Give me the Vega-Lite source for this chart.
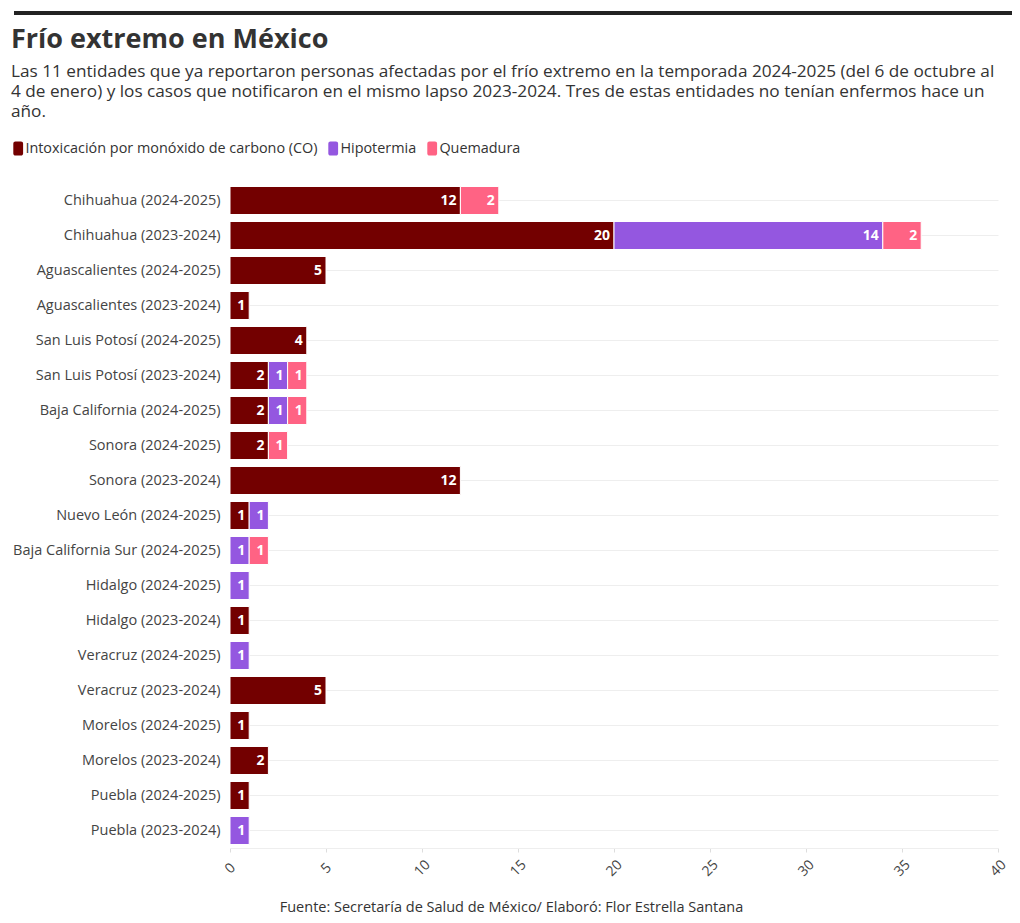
{
  "$schema": "https://vega.github.io/schema/vega-lite/v6.json",
  "padding": {"left": 11, "right": 11, "top": 11, "bottom": 10},
  "spacing": 10,
  "config": {
    "view": {"stroke": null},
    "font": "Open Sans",
    "text": {"font": "Open Sans"}
  },
  "title": {
    "text": "Fuente: Secretaría de Salud de México/ Elaboró: Flor Estrella Santana",
    "orient": "bottom",
    "anchor": "middle",
    "frame": "bounds",
    "fontSize": 14.5,
    "fontWeight": "normal",
    "color": "#333333",
    "offset": 22
  },
  "resolve": {"legend": {"color": "independent"}},
  "vconcat": [
    {
      "width": 998,
      "height": 4,
      "data": {"values": [{"a": 0, "b": 1}]},
      "mark": {"type": "rect", "color": "#222222"},
      "encoding": {
        "x": {"field": "a", "type": "quantitative", "scale": {"domain": [0, 1]}, "axis": null},
        "x2": {"field": "b"}
      }
    },
    {
      "title": {
        "text": "Frío extremo en México",
        "subtitle": [
          "Las 11 entidades que ya reportaron personas afectadas por el frío extremo en la temporada 2024-2025 (del 6 de octubre al",
          "4 de enero) y los casos que notificaron en el mismo lapso 2023-2024. Tres de estas entidades no tenían enfermos hace un",
          "año."
        ],
        "anchor": "start",
        "frame": "bounds",
        "fontSize": 27,
        "fontWeight": "bold",
        "color": "#333333",
        "subtitleFontSize": 17.2,
        "subtitleColor": "#333333",
        "subtitleLineHeight": 20,
        "subtitlePadding": 9,
        "offset": 20
      },
      "data": {
        "values": [
          {"entidad": "Chihuahua (2024-2025)", "tipo": "Intoxicación por monóxido de carbono (CO)", "n": 12},
          {"entidad": "Chihuahua (2024-2025)", "tipo": "Quemadura", "n": 2},
          {"entidad": "Chihuahua (2023-2024)", "tipo": "Intoxicación por monóxido de carbono (CO)", "n": 20},
          {"entidad": "Chihuahua (2023-2024)", "tipo": "Hipotermia", "n": 14},
          {"entidad": "Chihuahua (2023-2024)", "tipo": "Quemadura", "n": 2},
          {"entidad": "Aguascalientes (2024-2025)", "tipo": "Intoxicación por monóxido de carbono (CO)", "n": 5},
          {"entidad": "Aguascalientes (2023-2024)", "tipo": "Intoxicación por monóxido de carbono (CO)", "n": 1},
          {"entidad": "San Luis Potosí (2024-2025)", "tipo": "Intoxicación por monóxido de carbono (CO)", "n": 4},
          {"entidad": "San Luis Potosí (2023-2024)", "tipo": "Intoxicación por monóxido de carbono (CO)", "n": 2},
          {"entidad": "San Luis Potosí (2023-2024)", "tipo": "Hipotermia", "n": 1},
          {"entidad": "San Luis Potosí (2023-2024)", "tipo": "Quemadura", "n": 1},
          {"entidad": "Baja California (2024-2025)", "tipo": "Intoxicación por monóxido de carbono (CO)", "n": 2},
          {"entidad": "Baja California (2024-2025)", "tipo": "Hipotermia", "n": 1},
          {"entidad": "Baja California (2024-2025)", "tipo": "Quemadura", "n": 1},
          {"entidad": "Sonora (2024-2025)", "tipo": "Intoxicación por monóxido de carbono (CO)", "n": 2},
          {"entidad": "Sonora (2024-2025)", "tipo": "Quemadura", "n": 1},
          {"entidad": "Sonora (2023-2024)", "tipo": "Intoxicación por monóxido de carbono (CO)", "n": 12},
          {"entidad": "Nuevo León (2024-2025)", "tipo": "Intoxicación por monóxido de carbono (CO)", "n": 1},
          {"entidad": "Nuevo León (2024-2025)", "tipo": "Hipotermia", "n": 1},
          {"entidad": "Baja California Sur (2024-2025)", "tipo": "Hipotermia", "n": 1},
          {"entidad": "Baja California Sur (2024-2025)", "tipo": "Quemadura", "n": 1},
          {"entidad": "Hidalgo (2024-2025)", "tipo": "Hipotermia", "n": 1},
          {"entidad": "Hidalgo (2023-2024)", "tipo": "Intoxicación por monóxido de carbono (CO)", "n": 1},
          {"entidad": "Veracruz (2024-2025)", "tipo": "Hipotermia", "n": 1},
          {"entidad": "Veracruz (2023-2024)", "tipo": "Intoxicación por monóxido de carbono (CO)", "n": 5},
          {"entidad": "Morelos (2024-2025)", "tipo": "Intoxicación por monóxido de carbono (CO)", "n": 1},
          {"entidad": "Morelos (2023-2024)", "tipo": "Intoxicación por monóxido de carbono (CO)", "n": 2},
          {"entidad": "Puebla (2024-2025)", "tipo": "Intoxicación por monóxido de carbono (CO)", "n": 1},
          {"entidad": "Puebla (2023-2024)", "tipo": "Hipotermia", "n": 1}
        ]
      },
      "transform": [
        {"calculate": "indexof(['Intoxicación por monóxido de carbono (CO)', 'Hipotermia', 'Quemadura'], datum.tipo)", "as": "orden"}
      ],
      "spacing": 2,
      "resolve": {"scale": {"y": "shared"}, "legend": {"color": "shared"}},
      "hconcat": [
        {
          "width": 206,
          "height": 665,
          "mark": {"type": "point", "opacity": 0},
          "encoding": {
            "y": {
              "field": "entidad",
              "type": "nominal",
              "sort": [
                "Chihuahua (2024-2025)", "Chihuahua (2023-2024)", "Aguascalientes (2024-2025)", "Aguascalientes (2023-2024)",
                "San Luis Potosí (2024-2025)", "San Luis Potosí (2023-2024)", "Baja California (2024-2025)", "Sonora (2024-2025)",
                "Sonora (2023-2024)", "Nuevo León (2024-2025)", "Baja California Sur (2024-2025)", "Hidalgo (2024-2025)",
                "Hidalgo (2023-2024)", "Veracruz (2024-2025)", "Veracruz (2023-2024)", "Morelos (2024-2025)",
                "Morelos (2023-2024)", "Puebla (2024-2025)", "Puebla (2023-2024)"
              ],
              "scale": {"paddingInner": 0.2, "paddingOuter": 0.1},
              "axis": {
                "orient": "right",
                "title": null,
                "domain": false,
                "ticks": false,
                "tickSize": 0,
                "labelPadding": 0,
                "labelAlign": "right",
                "labelFontSize": 14.5,
                "labelColor": "#444444",
                "labelLimit": 400,
                "minExtent": 0,
                "maxExtent": 0,
                "grid": false,
                "bandPosition": 0.5
              }
            }
          }
        },
        {
          "width": 768,
          "height": 665,
          "encoding": {
            "y": {
              "field": "entidad",
              "type": "nominal",
              "sort": [
                "Chihuahua (2024-2025)", "Chihuahua (2023-2024)", "Aguascalientes (2024-2025)", "Aguascalientes (2023-2024)",
                "San Luis Potosí (2024-2025)", "San Luis Potosí (2023-2024)", "Baja California (2024-2025)", "Sonora (2024-2025)",
                "Sonora (2023-2024)", "Nuevo León (2024-2025)", "Baja California Sur (2024-2025)", "Hidalgo (2024-2025)",
                "Hidalgo (2023-2024)", "Veracruz (2024-2025)", "Veracruz (2023-2024)", "Morelos (2024-2025)",
                "Morelos (2023-2024)", "Puebla (2024-2025)", "Puebla (2023-2024)"
              ],
              "scale": {"paddingInner": 0.2, "paddingOuter": 0.1},
              "axis": {
                "title": null,
                "domain": false,
                "ticks": false,
                "labels": false,
                "minExtent": 0,
                "maxExtent": 0,
                "grid": true,
                "gridColor": "#eeeeee",
                "bandPosition": 0.5
              }
            }
          },
          "layer": [
            {
              "mark": {"type": "bar", "stroke": "white", "strokeWidth": 1},
              "encoding": {
                "x": {
                  "field": "n",
                  "type": "quantitative",
                  "stack": "zero",
                  "scale": {"domain": [0, 40]},
                  "axis": {
                    "title": null,
                    "grid": false,
                    "values": [0, 5, 10, 15, 20, 25, 30, 35, 40],
                    "domainColor": "#eeeeee",
                    "tickColor": "#dddddd",
                    "tickSize": 4,
                    "labelAngle": -45,
                    "labelAlign": "center",
                    "labelBaseline": "middle",
                    "labelPadding": 16,
                    "labelFontSize": 14,
                    "labelColor": "#444444"
                  }
                },
                "color": {
                  "field": "tipo",
                  "type": "nominal",
                  "scale": {
                    "domain": ["Intoxicación por monóxido de carbono (CO)", "Hipotermia", "Quemadura"],
                    "range": ["#730000", "#9457e0", "#ff6384"]
                  },
                  "legend": {
                    "orient": "none",
                    "legendX": -3,
                    "legendY": -42,
                    "direction": "horizontal",
                    "title": null,
                    "symbolType": "M-0.4,-1H0.4A0.3,0.3 0 0 1 0.7,-0.7V0.7A0.3,0.3 0 0 1 0.4,1H-0.4A0.3,0.3 0 0 1 -0.7,0.7V-0.7A0.3,0.3 0 0 1 -0.4,-1Z",
                    "symbolSize": 196,
                    "symbolStrokeWidth": 0,
                    "labelFontSize": 14.4,
                    "labelColor": "#333333",
                    "labelOffset": 0,
                    "labelLimit": 0,
                    "columnPadding": 8
                  }
                },
                "order": {"field": "orden"}
              }
            },
            {
              "mark": {"type": "text", "align": "right", "dx": -4, "color": "white", "fontWeight": "bold", "fontSize": 14},
              "encoding": {
                "x": {"field": "n", "type": "quantitative", "stack": "zero"},
                "detail": {"field": "tipo"},
                "order": {"field": "orden"},
                "text": {"field": "n"}
              }
            }
          ]
        }
      ]
    }
  ]
}
